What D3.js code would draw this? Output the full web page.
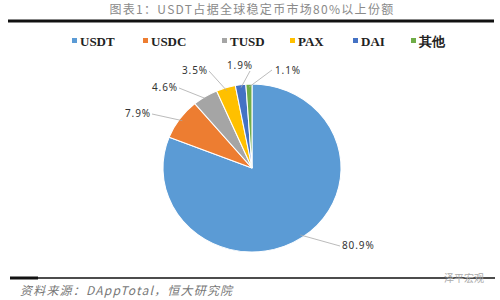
<!DOCTYPE html>
<html>
<head>
<meta charset="utf-8">
<script src="https://cdn.jsdelivr.net/npm/d3@7"></script>
<style>
  body { margin: 0; background: #fff; }
  svg { display: block; }
  .legend-text { font-family: "Liberation Serif", "DejaVu Serif", serif; font-weight: bold; }
</style>
</head>
<body>
<div id="chart"></div>
<script>
const width = 500;
const height = 300;

// data
const coins = ["USDT", "USDC", "TUSD", "PAX", "DAI", "其他"];
const shares = [80.9, 7.9, 4.6, 3.5, 1.9, 1.1];
const colors = ["#5B9BD5", "#ED7D31", "#A5A5A5", "#FFC000", "#4472C4", "#70AD47"];
const labelText = ["80.9%", "7.9%", "4.6%", "3.5%", "1.9%", "1.1%"];
// label anchor (text start, baseline) relative to the pie centre
const labelPos = [[90, 81], [-127, -51], [-100, -77], [-70, -94], [-25, -99], [23, -94]];

const svg = d3.select("#chart").append("svg")
    .attr("width", width)
    .attr("height", height);

// title
svg.append("text")
    .attr("x", 252)
    .attr("y", 14)
    .attr("text-anchor", "middle")
    .attr("font-family", "'Noto Sans CJK SC', sans-serif")
    .attr("font-size", 12)
    .attr("letter-spacing", 1.3)
    .attr("fill", "#8a8a8a")
    .text("图表1：USDT占据全球稳定币市场80%以上份额");

svg.append("line")
    .attr("x1", 8).attr("x2", 494)
    .attr("y1", 21).attr("y2", 21)
    .attr("stroke", "#111")
    .attr("stroke-width", 3);

// legend
const legendX = [72, 143, 222, 290, 353, 411];
const legend = svg.append("g").selectAll("g")
    .data(coins)
    .enter()
    .append("g")
    .attr("transform", (d, i) => `translate(${legendX[i]}, 41)`);

legend.append("rect")
    .attr("x", 0).attr("y", -3)
    .attr("width", 5).attr("height", 5)
    .attr("fill", (d, i) => colors[i]);

legend.append("text")
    .attr("class", "legend-text")
    .attr("x", 8)
    .attr("y", 4.5)
    .attr("font-size", 13)
    .attr("fill", "#222")
    .text(d => d);

// pie
const cx = 252, cy = 168, r = 84;
const pie = d3.pie().sort(null).value(d => d)(shares);
const arc = d3.arc().innerRadius(0).outerRadius(r);

const g = svg.append("g")
    .attr("transform", `translate(${cx}, ${cy}) scale(1.06, 1)`);

g.selectAll("path")
    .data(pie)
    .enter()
    .append("path")
    .attr("d", arc)
    .attr("fill", (d, i) => colors[i])
    .attr("stroke", "#fff")
    .attr("stroke-width", 1);

// leader lines and labels
const lg = svg.append("g").attr("transform", `translate(${cx}, ${cy})`);
const edge = d3.arc().innerRadius(r - 3).outerRadius(r - 3);

const labels = lg.selectAll("text")
    .data(pie)
    .enter()
    .append("text")
    .attr("x", (d, i) => labelPos[i][0])
    .attr("y", (d, i) => labelPos[i][1])
    .attr("font-family", "'Noto Sans', sans-serif")
    .attr("font-size", 10)
    .attr("letter-spacing", 0.9)
    .attr("fill", "#333")
    .text((d, i) => labelText[i]);

labels.each(function(d, i) {
  const box = this.getBBox();
  const c = edge.centroid(d);
  const p0 = [c[0] * 1.06, c[1]];
  const lp = labelPos[i];
  let end;
  if (i === 0) end = [lp[0] - 2, lp[1] - 3];
  else if (i === 4) end = [box.x + box.width - 3, lp[1] + 2];
  else if (i === 5) end = [lp[0] - 3, lp[1] - 4];
  else end = [box.x + box.width + 1, lp[1] - 3];
  lg.insert("path", "text")
      .attr("d", d3.line()([p0, end]))
      .attr("fill", "none")
      .attr("stroke", "#aaa")
      .attr("stroke-width", 0.8);
});

// footer
svg.append("line")
    .attr("x1", 10).attr("x2", 495)
    .attr("y1", 278).attr("y2", 278)
    .attr("stroke", "#111")
    .attr("stroke-width", 1.5);

svg.append("line")
    .attr("x1", 10).attr("x2", 38)
    .attr("y1", 278).attr("y2", 278)
    .attr("stroke", "#111")
    .attr("stroke-width", 3);

svg.append("text")
    .attr("x", 20)
    .attr("y", 295)
    .attr("font-family", "'Noto Sans CJK SC', serif")
    .attr("font-style", "italic")
    .attr("font-size", 12)
    .attr("letter-spacing", 1.2)
    .attr("fill", "#777")
    .text("资料来源：DAppTotal，恒大研究院");

svg.append("text")
    .attr("x", 484)
    .attr("y", 282)
    .attr("text-anchor", "end")
    .attr("font-family", "'Noto Sans CJK SC', sans-serif")
    .attr("font-size", 10)
    .attr("fill", "#aaa")
    .text("泽平宏观");
</script>
</body>
</html>
